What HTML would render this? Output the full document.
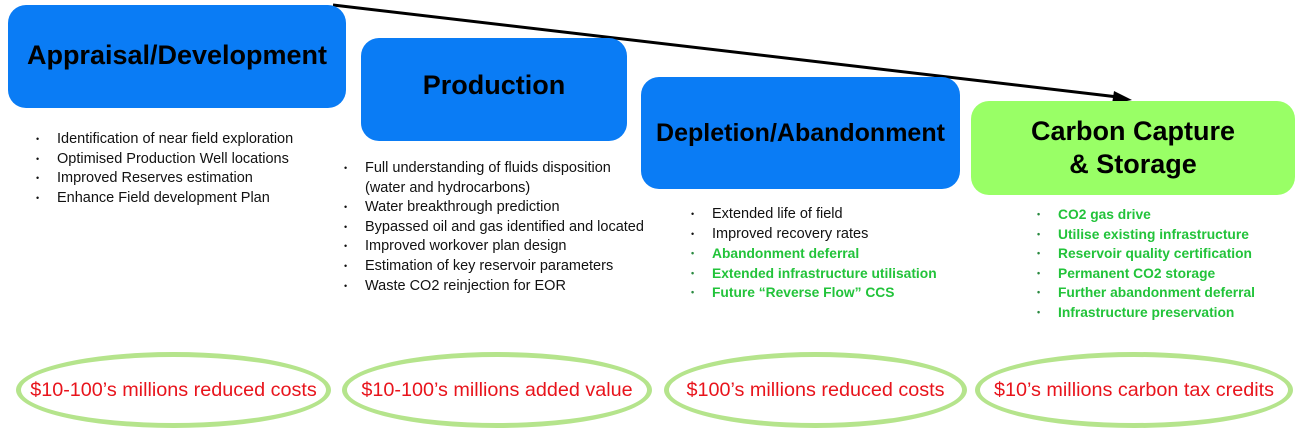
<!DOCTYPE html>
<html><head><meta charset="utf-8"><style>
body{margin:0;width:1302px;height:436px;background:#fff;position:relative;overflow:hidden;font-family:"Liberation Sans",sans-serif}
.box{position:absolute;border-radius:18px;background:#0a7cf5;display:flex;align-items:center;justify-content:center;text-align:center;font-weight:bold;color:#000;white-space:nowrap}
ul{position:absolute;margin:0;padding:0;list-style:none;font-size:14.5px;line-height:19.6px;color:#111}
li{position:relative;padding-left:21px;white-space:nowrap}
li:before{content:"•";position:absolute;left:0;font-size:9px}
.g{color:#22c33a;font-weight:bold;font-size:13.8px}
.g:before{color:#2a8a40}
.ell{position:absolute;border:5px solid #b5e48c;border-radius:50%;box-sizing:border-box;display:flex;align-items:center;justify-content:center;color:#e8141c;font-size:19.8px;white-space:nowrap}
</style></head><body>
<svg style="position:absolute;left:0;top:0" width="1302" height="436">
<line x1="333" y1="5" x2="1118" y2="97" stroke="#000" stroke-width="3"/>
<polygon points="1132,100 1114,91 1112,104" fill="#000"/>
</svg>
<div class="box" style="left:8px;top:5px;width:338px;height:103px;font-size:27px;padding-bottom:2px;box-sizing:border-box">Appraisal/Development</div>
<div class="box" style="left:361px;top:38px;width:266px;height:103px;font-size:27px;padding-bottom:8px;box-sizing:border-box">Production</div>
<div class="box" style="left:641px;top:77px;width:319px;height:112px;font-size:25px">Depletion/Abandonment</div>
<div class="box" style="left:971px;top:101px;width:324px;height:94px;font-size:27px;background:#99ff66;line-height:33px">Carbon Capture<br>&amp; Storage</div>
<ul style="left:36px;top:130px">
<li>Identification of near field exploration</li>
<li>Optimised Production Well locations</li>
<li>Improved Reserves estimation</li>
<li>Enhance Field development Plan</li>
</ul>
<ul style="left:344px;top:159px">
<li>Full understanding of fluids disposition<br>(water and hydrocarbons)</li>
<li>Water breakthrough prediction</li>
<li>Bypassed oil and gas identified and located</li>
<li>Improved workover plan design</li>
<li>Estimation of key reservoir parameters</li>
<li>Waste CO2 reinjection for EOR</li>
</ul>
<ul style="left:691px;top:205px">
<li>Extended life of field</li>
<li>Improved recovery rates</li>
<li class="g">Abandonment deferral</li>
<li class="g">Extended infrastructure utilisation</li>
<li class="g">Future “Reverse Flow” CCS</li>
</ul>
<ul style="left:1037px;top:205px">
<li class="g">CO2 gas drive</li>
<li class="g">Utilise existing infrastructure</li>
<li class="g">Reservoir quality certification</li>
<li class="g">Permanent CO2 storage</li>
<li class="g">Further abandonment deferral</li>
<li class="g">Infrastructure preservation</li>
</ul>
<div class="ell" style="left:16px;top:352px;width:315px;height:76px">$10-100’s millions reduced costs</div>
<div class="ell" style="left:342px;top:352px;width:310px;height:76px">$10-100’s millions added value</div>
<div class="ell" style="left:664px;top:352px;width:303px;height:76px">$100’s millions reduced costs</div>
<div class="ell" style="left:975px;top:352px;width:318px;height:76px">$10’s millions carbon tax credits</div>
</body></html>
